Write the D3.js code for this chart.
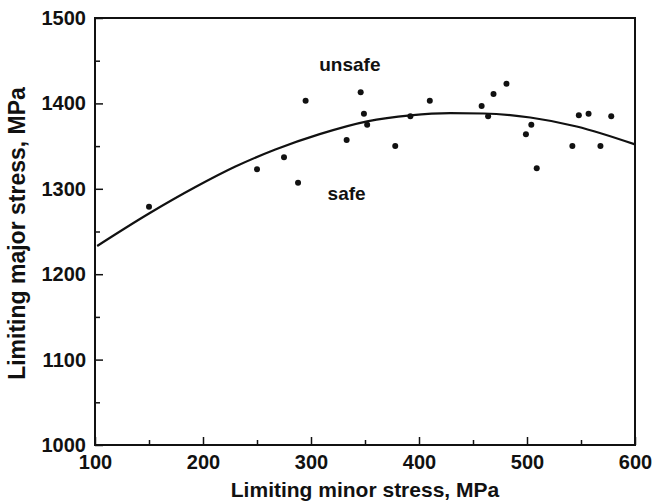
<!DOCTYPE html>
<html>
<head>
<meta charset="utf-8">
<script src="https://cdn.jsdelivr.net/npm/d3@7"></script>
<style>
  html, body { margin: 0; padding: 0; background: #fff; }
  svg { display: block; }
  text { font-family: "Liberation Sans", Arial, Helvetica, sans-serif; font-weight: bold; fill: #111; }
</style>
</head>
<body>
<script>
// ---- data ----
const minorStress = [150, 250, 275, 288, 295, 333, 346, 349, 352, 378, 392, 410, 458, 464, 469, 481, 499, 504, 509, 542, 548, 557, 568, 578];
const majorStress = [1279, 1323, 1337, 1307, 1403, 1357, 1413, 1388, 1375, 1350, 1385, 1403, 1397, 1385, 1411, 1423, 1364, 1375, 1324, 1350, 1386, 1388, 1350, 1385];
const curveMinor = [102, 150, 193, 230, 267, 308, 352, 392, 429, 460, 503, 546, 600];
const curveMajor = [1233, 1271, 1302, 1326, 1346, 1364, 1379, 1386, 1388.5, 1388.2, 1383.5, 1373, 1352];
const xMajorTicks = [100, 200, 300, 400, 500, 600];
const xMinorTicks = [150, 250, 350, 450, 550];
const yMajorTicks = [1000, 1100, 1200, 1300, 1400, 1500];
const yMinorTicks = [1050, 1150, 1250, 1350, 1450];
const xTitle = "Limiting minor stress, MPa";
const yTitle = "Limiting major stress, MPa";
const regionLabels = ["unsafe", "safe"];
const regionLabelPos = [[336, 1438], [333, 1287]];

// ---- layout ----
const W = 653, H = 504;
const L = 95, R = 635, T = 18, B = 445;

const svg = d3.select("body").append("svg").attr("width", W).attr("height", H);

const x = d3.scaleLinear().domain([100, 600]).range([L, R]);
const y = d3.scaleLinear().domain([1000, 1500]).range([B, T]);

const styleTicks = g => {
  g.select(".domain").remove();
  g.selectAll("line").attr("stroke", "#111").attr("stroke-width", 1.5);
  g.selectAll("text").attr("font-size", 20).attr("fill", "#111")
    .attr("font-family", "'Liberation Sans', Arial, sans-serif").attr("font-weight", "bold");
};

// bottom axis
svg.append("g").attr("transform", `translate(0,${B})`)
  .call(d3.axisBottom(x).tickValues(xMajorTicks).tickSize(-8).tickPadding(10).tickFormat(d3.format("d")))
  .call(styleTicks);
svg.append("g").attr("transform", `translate(0,${B})`)
  .call(d3.axisBottom(x).tickValues(xMinorTicks).tickSize(-5).tickFormat(""))
  .call(styleTicks);

// left axis
svg.append("g").attr("transform", `translate(${L},0)`)
  .call(d3.axisLeft(y).tickValues(yMajorTicks).tickSize(-8).tickPadding(9).tickFormat(d3.format("d")))
  .call(styleTicks);
svg.append("g").attr("transform", `translate(${L},0)`)
  .call(d3.axisLeft(y).tickValues(yMinorTicks).tickSize(-5).tickFormat(""))
  .call(styleTicks);

// frame
svg.append("rect").attr("x", L).attr("y", T).attr("width", R - L).attr("height", B - T)
  .attr("fill", "none").attr("stroke", "#111").attr("stroke-width", 2);

// curve
const line = d3.line().x((d, i) => x(curveMinor[i])).y(d => y(d)).curve(d3.curveMonotoneX);
svg.append("path").datum(curveMajor).attr("d", line)
  .attr("fill", "none").attr("stroke", "#111").attr("stroke-width", 2.2);

// points
svg.append("g").selectAll("circle").data(majorStress).join("circle")
  .attr("cx", (d, i) => x(minorStress[i])).attr("cy", d => y(d)).attr("r", 3).attr("fill", "#111");

// region labels
svg.append("g").selectAll("text").data(regionLabels).join("text")
  .attr("x", (d, i) => x(regionLabelPos[i][0])).attr("y", (d, i) => y(regionLabelPos[i][1]))
  .attr("text-anchor", "middle").attr("font-size", 19).text(d => d);

// axis titles
svg.append("text").attr("x", (L + R) / 2).attr("y", 497).attr("text-anchor", "middle")
  .attr("font-size", 21).text(xTitle);
svg.append("text").attr("transform", `translate(25,${(T + B) / 2 + 2}) rotate(-90)`)
  .attr("text-anchor", "middle").attr("font-size", 23).text(yTitle);
</script>
</body>
</html>
